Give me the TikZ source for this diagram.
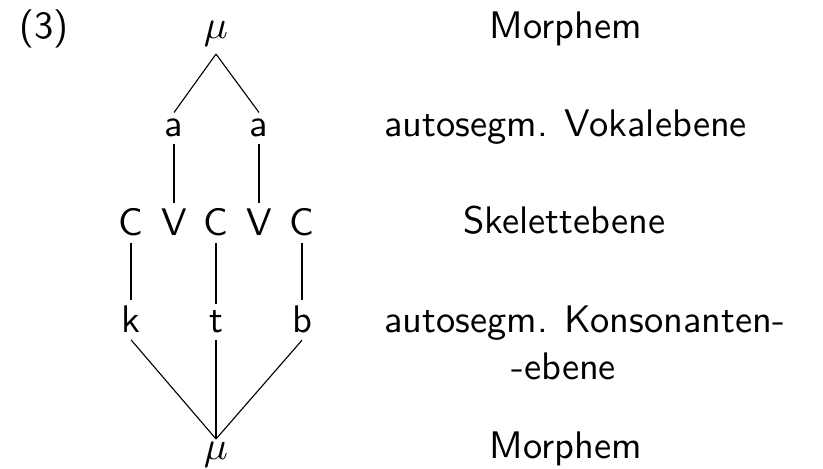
\documentclass[tikz,border=0pt]{standalone}
\usepackage{fontspec}
\begin{document}
\begin{tikzpicture}[x=0.25pt,y=-0.25pt,
  every node/.style={font=\sffamily\fontsize{9.6}{11.5}\selectfont, inner sep=1.5pt},
  tree/.style={anchor=base},
  lbl/.style={anchor=base west, inner sep=0pt},
  edge/.style={draw, line width=0.28pt}]
\useasboundingbox (0,0) rectangle (823,469);
% tree
\node[tree, inner sep=1.8pt] (mu1) at (216,38.3) {$\mu$};
\node[tree] (a1) at (174,137) {a};
\node[tree] (a2) at (259,137) {a};
\node[tree] (c1) at (131,236) {C};
\node[tree] (v1) at (174,236) {V};
\node[tree] (c2) at (216,236) {C};
\node[tree] (v2) at (259,236) {V};
\node[tree] (c3) at (302,236) {C};
\node[tree] (k) at (131,333) {k};
\node[tree] (t) at (216,333) {t};
\node[tree] (b) at (302,333) {b};
\node[tree, inner sep=0.5pt] (mu2) at (216,459) {$\mu$};
% labels
\node[lbl] (num) at (18.5,38.5) {(3)};
\node[lbl] (l1) at (489,38.5) {Morphem};
\node[lbl] (l2) at (383.5,137) {autosegm. Vokalebene};
\node[lbl] (l3) at (462.5,234) {Skelettebene};
\node[lbl] (l4) at (383.5,333) {autosegm. Konsonanten-};
\node[lbl] (l5) at (510.5,380) {-ebene};
\node[lbl] (l6) at (489,458.5) {Morphem};
% connectors
\draw[edge] (mu1.south) -- (a1.north);
\draw[edge] (mu1.south) -- (a2.north);
\draw[edge] (a1.south) -- (v1.north);
\draw[edge] (a2.south) -- (v2.north);
\draw[edge] (c1.south) -- (k.north);
\draw[edge] (c2.south) -- (t.north);
\draw[edge] (c3.south) -- (b.north);
\draw[edge] (k.south) -- (mu2.north);
\draw[edge] (t.south) -- (mu2.north);
\draw[edge] (b.south) -- (mu2.north);
\end{tikzpicture}
\end{document}
